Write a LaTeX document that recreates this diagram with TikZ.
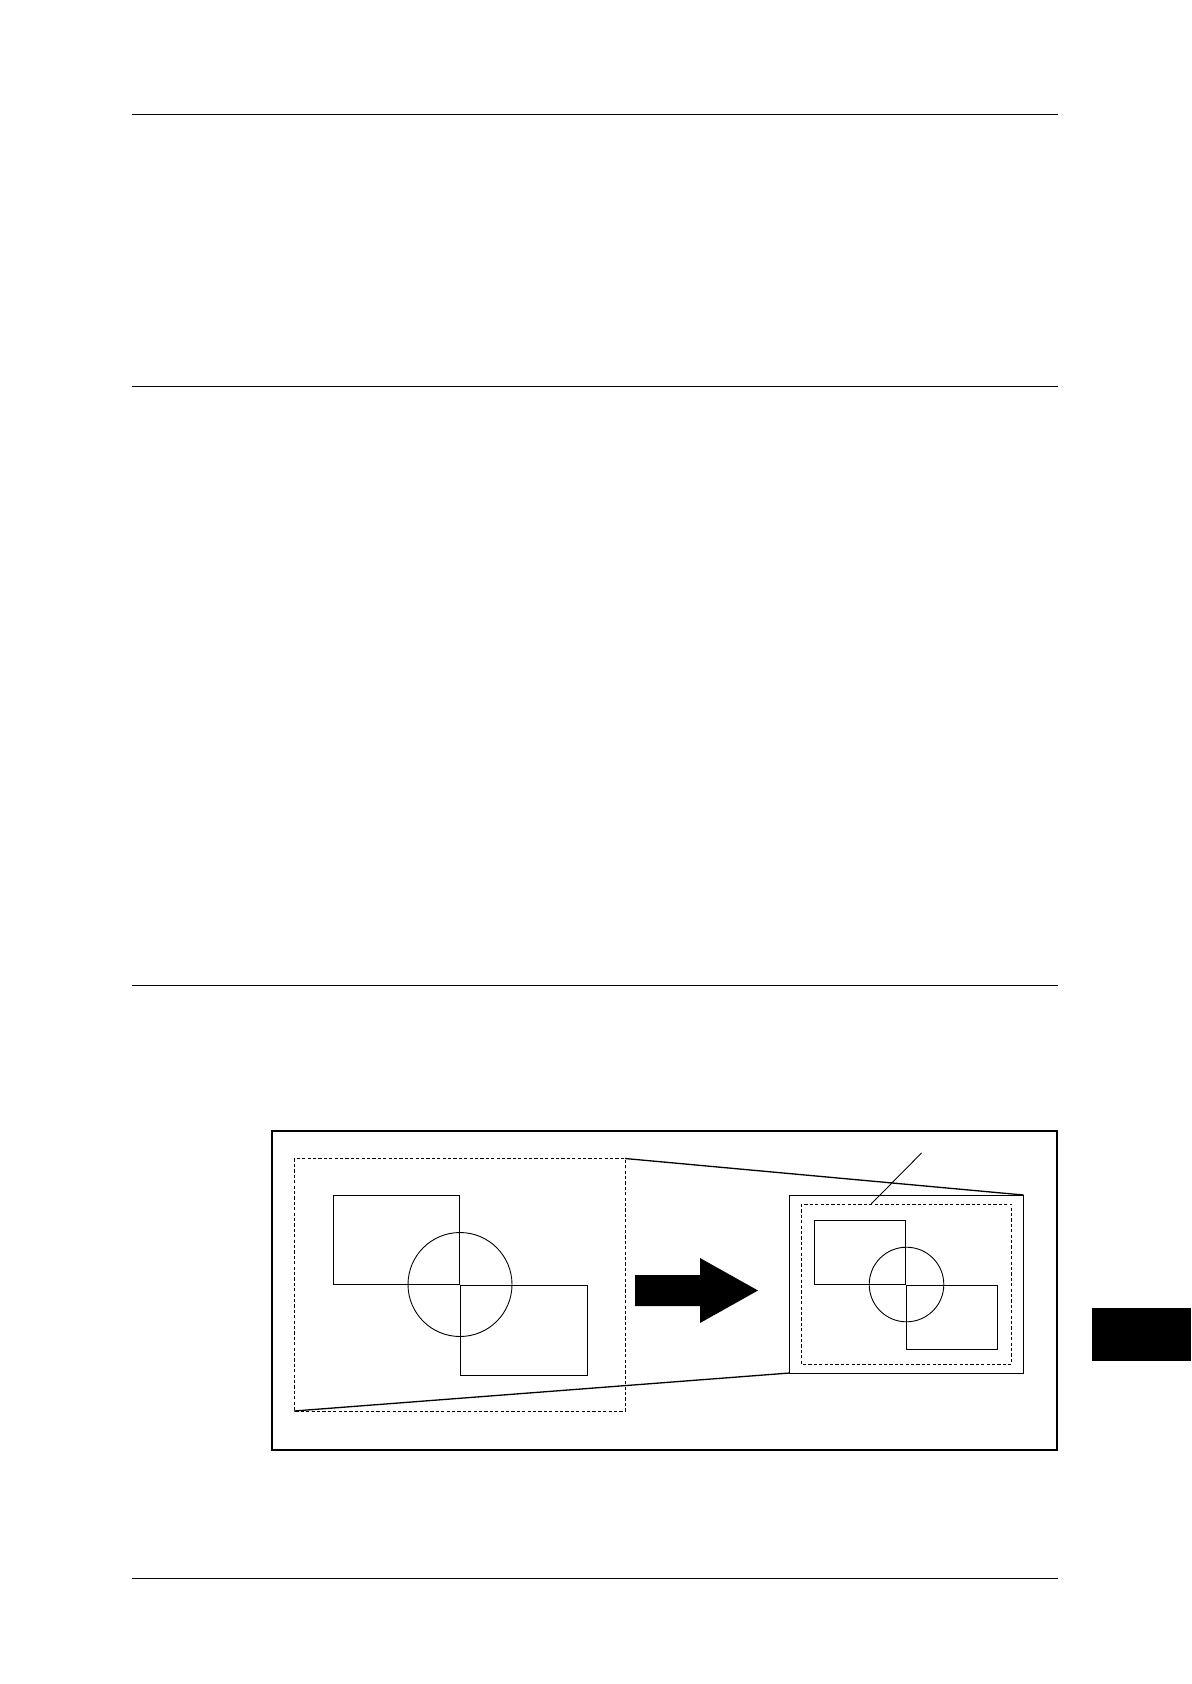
\documentclass[tikz,border=0pt]{standalone}
\usetikzlibrary{calc}

\tikzset{
  rule/.style={line width=0.5pt},
  frame/.style={line width=0.9pt},
  sel/.style={line width=0.45pt,dash pattern=on 1.6pt off 1.1pt},
  outline/.style={line width=0.45pt},
  zoomline/.style={line width=0.65pt},
}

\begin{document}
\begin{tikzpicture}[x=0.5pt,y=-0.5pt]
  \useasboundingbox (0,0) rectangle (1191,1684);

  \foreach \y in {115,387,985,1578} {
    \draw[rule] (132,\y) -- (1058,\y);
  }
  \fill (1092,1308) rectangle (1191,1361);

  \draw[frame] (272,1131) rectangle (1057,1450);

  % original page
  \coordinate (lsel nw) at (294,1158.5);
  \coordinate (lsel ne) at (625,1158.5);
  \coordinate (lsel sw) at (294,1411);
  \coordinate (lsel se) at (625,1411);
  \draw[sel] (lsel nw) rectangle (lsel se);
  \draw[outline] (333.5,1195) rectangle (459.5,1284.5);
  \draw[outline] (460.5,1285.5) rectangle (587,1375);
  \draw[outline] (460,1284.5) circle [radius=52];

  \fill (635,1275) -- (700,1275) -- (700,1258) -- (758,1290.5)
    -- (700,1323) -- (700,1306) -- (635,1306) -- cycle;

  % reduced page
  \coordinate (rframe nw) at (789.5,1195);
  \coordinate (rframe ne) at (1023.5,1195);
  \coordinate (rframe sw) at (789.5,1373);
  \coordinate (rframe se) at (1023.5,1373);
  \draw[outline] (rframe nw) rectangle (rframe se);
  \coordinate (rsel nw) at (801,1204);
  \coordinate (rsel ne) at (1011.5,1204);
  \draw[sel] (rsel nw) rectangle (1011.5,1364);
  \draw[outline] (814,1220) rectangle (905.5,1284.5);
  \draw[outline] (906.5,1285.5) rectangle (997,1349);
  \draw[outline] (906.5,1284.5) circle [radius=37.3];

  \draw[zoomline] (lsel ne) -- (rframe ne);
  \draw[zoomline] (lsel sw) -- (rframe sw);

  \coordinate (tag) at (921.5,1153);
  \coordinate (tag end) at ($(rsel nw)!0.333!(rsel ne)$);
  \draw[outline] (tag) -- (tag end);
\end{tikzpicture}
\end{document}
